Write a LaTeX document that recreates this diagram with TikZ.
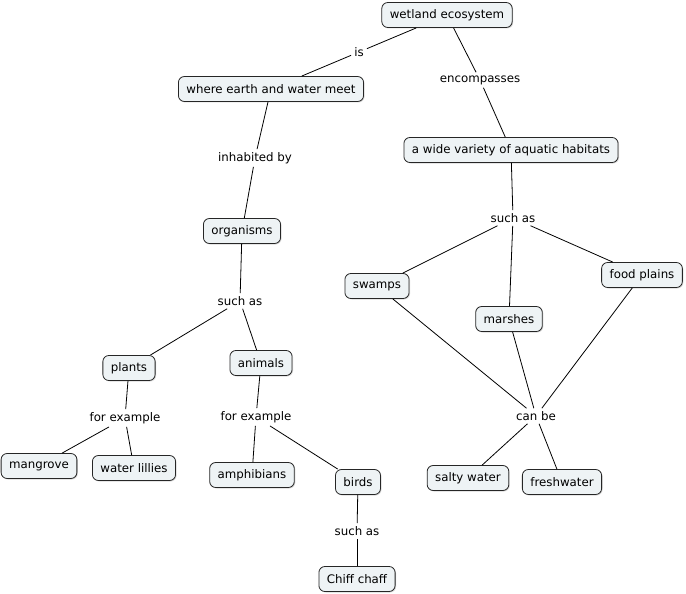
\documentclass[tikz,border=0pt]{standalone}
\usepackage{fontspec}
\setmainfont{DejaVu Sans}
\usetikzlibrary{shadows}
\begin{document}
\begin{tikzpicture}[x=1pt,y=-1pt,
  concept/.style={draw=black!85, line width=0.8pt, fill={rgb,255:red,238;green,243;blue,245}, rounded corners=6pt,
    minimum height=25pt, inner xsep=8pt, inner ysep=3pt, font=\fontsize{11.8}{13}\selectfont,
    drop shadow={shadow xshift=1pt, shadow yshift=-1pt, fill=black!25, opacity=0.6}},
  lbl/.style={inner sep=3pt, font=\fontsize{11.8}{13}\selectfont},
  conn/.style={draw=black, line width=0.8pt}]
\useasboundingbox (0,0) rectangle (686,594);
% concepts
\node[concept] (we) at (447,15) {wetland ecosystem};
\node[concept] (ew) at (271,89) {where earth and water meet};
\node[concept] (wv) at (511,150) {a wide variety of aquatic habitats};
\node[concept] (org) at (242,231) {organisms};
\node[concept] (sw) at (377,286) {swamps};
\node[concept] (fp) at (642,275) {food plains};
\node[concept] (ma) at (509,319) {marshes};
\node[concept] (pl) at (129,368) {plants};
\node[concept] (an) at (261,363) {animals};
\node[concept] (mg) at (39,466) {mangrove};
\node[concept] (wl) at (134,468) {water lillies};
\node[concept] (am) at (252,475) {amphibians};
\node[concept] (bi) at (358,482) {birds};
\node[concept] (cc) at (357,579) {Chiff chaff};
\node[concept] (sa) at (468,478) {salty water};
\node[concept] (fw) at (562,482) {freshwater};
% labels
\node[lbl] (is) at (359,52) {is};
\node[lbl] (enc) at (480,80) {encompasses};
\node[lbl] (inh) at (255,158) {inhabited by};
\node[lbl] (sa1) at (240,301) {such as};
\node[lbl] (sa2) at (513,218) {such as};
\node[lbl] (fe1) at (125,418) {for example};
\node[lbl] (fe2) at (256,417) {for example};
\node[lbl] (sa3) at (357,531) {such as};
\node[lbl] (cb) at (536,416) {can be};
% connectors
\draw[conn] (we) -- (is);
\draw[conn] (is) -- (ew);
\draw[conn] (we) -- (enc);
\draw[conn] (enc) -- (wv);
\draw[conn] (ew) -- (inh);
\draw[conn] (inh) -- (org);
\draw[conn] (org) -- (sa1);
\draw[conn] (sa1) -- (pl);
\draw[conn] (sa1) -- (an);
\draw[conn] (pl) -- (fe1);
\draw[conn] (fe1) -- (mg);
\draw[conn] (fe1) -- (wl);
\draw[conn] (an) -- (fe2);
\draw[conn] (fe2) -- (am);
\draw[conn] (fe2) -- (bi);
\draw[conn] (bi) -- (sa3);
\draw[conn] (sa3) -- (cc);
\draw[conn] (wv) -- (sa2);
\draw[conn] (sa2) -- (sw);
\draw[conn] (sa2) -- (ma);
\draw[conn] (sa2) -- (fp);
\draw[conn] (sw) -- (cb);
\draw[conn] (ma) -- (cb);
\draw[conn] (fp) -- (cb);
\draw[conn] (cb) -- (sa);
\draw[conn] (cb) -- (fw);
\end{tikzpicture}
\end{document}
